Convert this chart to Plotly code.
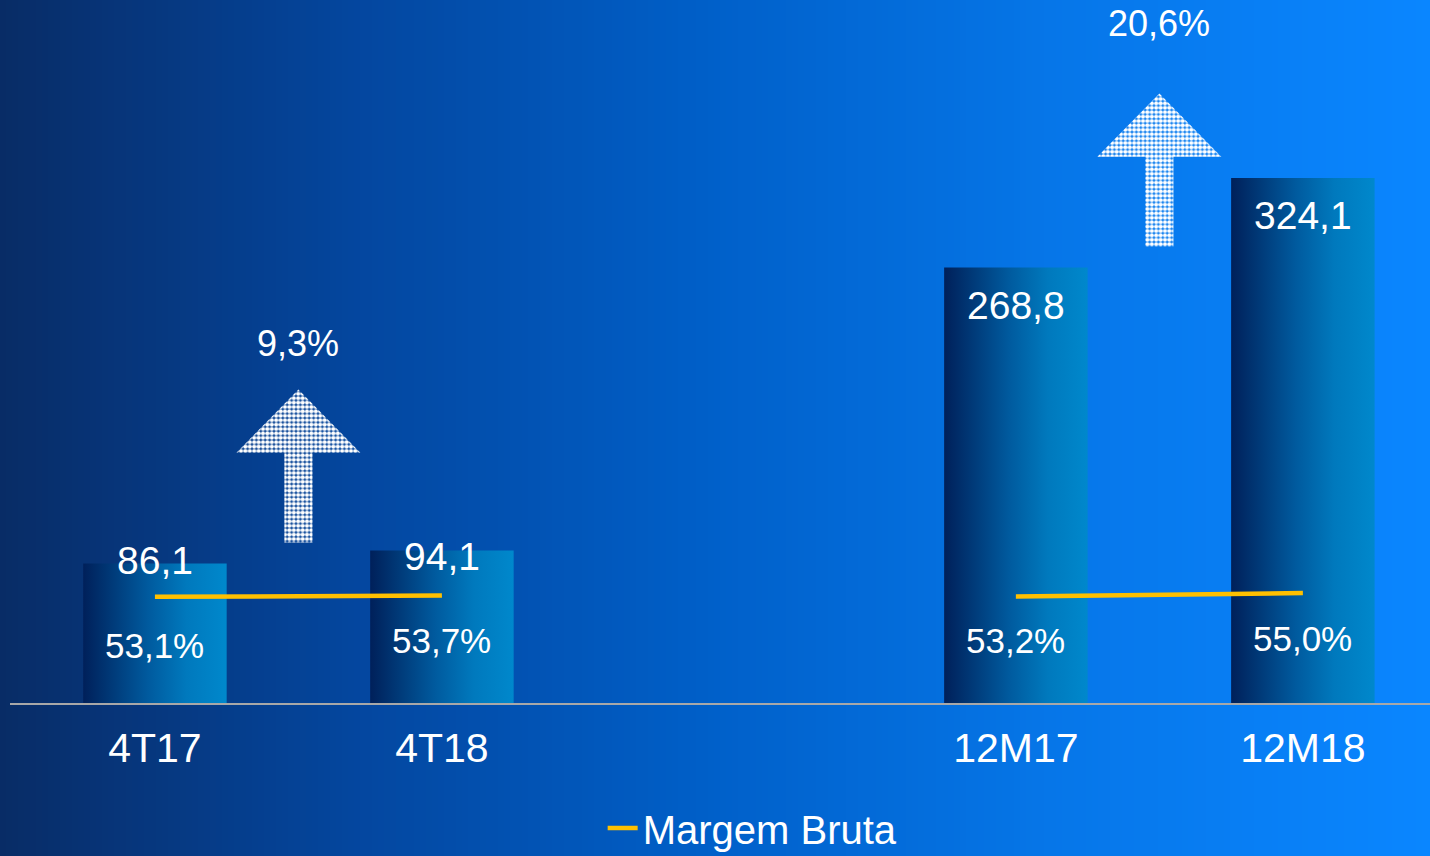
import plotly.graph_objects as go

# ---------------- data ----------------
categories = ["4T17", "4T18", "12M17", "12M18"]
cat_pos = [0, 1, 3, 4]                  # slot positions on the axis (gap between pairs)
receita = [86.1, 94.1, 268.8, 324.1]    # bar values
margem = [53.1, 53.7, 53.2, 55.0]       # Margem Bruta (%)
growth = [9.3, 20.6]                    # growth between each pair (%)
pairs = [(0, 1), (2, 3)]

def br(v, d=1):
    return f"{v:.{d}f}".replace(".", ",")

# ---------------- layout constants ----------------
W, H = 1430, 856
ML, MR, MT, MB = 10, 0, 0, 153
PW, PH = W - ML - MR, H - MT - MB
X_RANGE = [-0.505, 4.443]
Y_RANGE = [0, PH / 1.62]
Y2_RANGE = [0, PH / 2.0]
FONT = "Liberation Sans, Arial, sans-serif"
BAR_W = 0.5

fig = go.Figure()

# background gradient (decoration)
stops = [(0, (8, 44, 102)), (350, (4, 70, 158)), (700, (0, 95, 200)),
         (1050, (6, 118, 232)), (1430, (10, 134, 255))]

def bg_color(px):
    for (p0, c0), (p1, c1) in zip(stops[:-1], stops[1:]):
        if p0 <= px <= p1:
            t = (px - p0) / (p1 - p0)
            return "rgb(%d,%d,%d)" % tuple(round(a + (b - a) * t) for a, b in zip(c0, c1))
    return "rgb(%d,%d,%d)" % stops[-1][1]

shapes = []
step = 6
for px in range(0, W, step):
    shapes.append(dict(type="rect", xref="paper", yref="paper", layer="below",
                       x0=(px - ML) / PW, x1=(px + step + 1 - ML) / PW,
                       y0=-(MB + 5) / PH, y1=1.01,
                       line=dict(width=0), fillcolor=bg_color(px + step / 2)))

# bars with horizontal gradient
bar_scale = [[0, "#00205a"], [0.45, "#005a9e"], [0.72, "#0079bd"], [1, "#0088cc"]]
for c, x, v in zip(categories, cat_pos, receita):
    fig.add_trace(go.Scatter(
        x=[x - BAR_W / 2, x + BAR_W / 2, x + BAR_W / 2, x - BAR_W / 2, x - BAR_W / 2],
        y=[0, 0, v, v, 0], mode="lines", fill="toself", line=dict(width=0),
        fillgradient=dict(type="horizontal", colorscale=bar_scale),
        hoverinfo="skip", showlegend=False, name=c))

# dotted growth arrows (decoration)
HEAD_HW, SHAFT_HW, HEAD_H, ARROW_H = 0.216, 0.049, 39, 94.4
for (a, b) in pairs:
    cx = (cat_pos[a] + cat_pos[b]) / 2
    base = min(receita[a], receita[b]) + 13
    tip = base + ARROW_H
    hb = tip - HEAD_H
    xs = [cx - SHAFT_HW, cx + SHAFT_HW, cx + SHAFT_HW, cx + HEAD_HW, cx,
          cx - HEAD_HW, cx - SHAFT_HW, cx - SHAFT_HW]
    ys = [base, base, hb, hb, tip, hb, hb, base]
    fig.add_trace(go.Scatter(
        x=xs, y=ys, mode="lines", fill="toself", line=dict(width=0),
        fillcolor="rgba(0,0,0,0)",
        fillpattern=dict(shape=".", fgcolor="white", bgcolor="rgba(0,0,0,0)",
                         size=4.4, solidity=0.7, fillmode="replace"),
        hoverinfo="skip", showlegend=False))

# Margem Bruta line (separate segments per pair)
lx, ly = [], []
for (a, b) in pairs:
    lx += [cat_pos[a], cat_pos[b], None]
    ly += [margem[a], margem[b], None]
fig.add_trace(go.Scatter(x=lx, y=ly, yaxis="y2", mode="lines", name="Margem Bruta",
                         line=dict(color="#ffc000", width=4.5), connectgaps=False))

annotations = []
# value labels
value_shift = [3, -6, -38, -38]
for x, v, s in zip(cat_pos, receita, value_shift):
    annotations.append(dict(x=x, y=v, xref="x", yref="y", text=br(v), showarrow=False,
                            yanchor="middle", yshift=s,
                            font=dict(family=FONT, size=39, color="white")))
# margin labels
margin_px = [645, 640, 640, 638]
for x, m, p in zip(cat_pos, margem, margin_px):
    annotations.append(dict(x=x, y=(PH - p) / PH, xref="x", yref="paper",
                            text=br(m) + "%", showarrow=False, yanchor="middle",
                            font=dict(family=FONT, size=35, color="white")))
# growth labels
growth_shift = [46, 70]
for (a, b), g, s in zip(pairs, growth, growth_shift):
    cx = (cat_pos[a] + cat_pos[b]) / 2
    tip = min(receita[a], receita[b]) + 13 + ARROW_H
    annotations.append(dict(x=cx, y=tip, xref="x", yref="y", text=br(g) + "%",
                            showarrow=False, yanchor="middle", yshift=s,
                            font=dict(family=FONT, size=36, color="white")))

fig.update_layout(
    width=W, height=H, autosize=False,
    margin=dict(l=ML, r=MR, t=MT, b=MB, autoexpand=False),
    paper_bgcolor="#0a4aa8", plot_bgcolor="rgba(0,0,0,0)",
    shapes=shapes, annotations=annotations,
    font=dict(family=FONT, color="white"),
    xaxis=dict(range=X_RANGE, tickvals=cat_pos, ticktext=categories, showgrid=False,
               zeroline=False, showline=True, linecolor="#a8a8a8", linewidth=1.5,
               ticks="", tickfont=dict(family=FONT, size=41, color="white"),
               ticklabelstandoff=8, fixedrange=True, automargin=False),
    yaxis=dict(range=Y_RANGE, visible=False, fixedrange=True),
    yaxis2=dict(range=Y2_RANGE, overlaying="y", visible=False, fixedrange=True),
    showlegend=True,
    legend=dict(orientation="h", x=0.523, xanchor="center",
                yref="container", y=1 - 828 / H, yanchor="middle",
                bgcolor="rgba(0,0,0,0)",
                font=dict(family=FONT, size=40, color="white")),
)

fig.write_html(
    "out.html",
    config={"displayModeBar": False},
    post_script="document.body.style.margin='0';document.body.style.overflow='hidden';",
)
